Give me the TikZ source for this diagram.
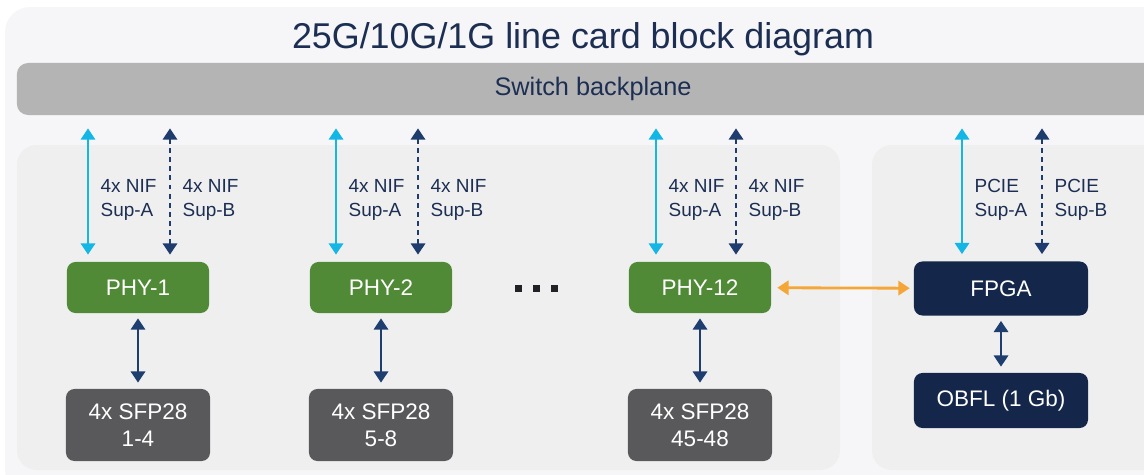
\documentclass[tikz,border=0pt]{standalone}
\usepackage{fontspec}
\setmainfont{Liberation Sans}
\usetikzlibrary{arrows.meta,positioning}
\definecolor{lcgreen}{RGB}{80,138,54}
\definecolor{lcnavy}{RGB}{20,39,75}
\definecolor{lcgray}{RGB}{89,89,91}
\definecolor{lccyan}{RGB}{20,182,230}
\definecolor{lcdash}{RGB}{30,60,110}
\definecolor{lclink}{RGB}{31,62,112}
\definecolor{lcorange}{RGB}{245,166,54}
\definecolor{lcbp}{RGB}{180,180,180}
\definecolor{lcpanel}{RGB}{239,239,240}
\definecolor{lcback}{RGB}{246,246,248}
\definecolor{lctext}{RGB}{28,46,82}
\definecolor{lcdots}{RGB}{34,34,38}
\newcommand{\lctitlefont}{\fontsize{25.5}{29}\selectfont}
\newcommand{\lcbpfont}{\fontsize{18}{21}\selectfont}
\newcommand{\lcboxfont}{\fontsize{16}{19}\selectfont}
\newcommand{\lclblfont}{\fontsize{13.5}{17}\selectfont}

\begin{document}
\begin{tikzpicture}[x=0.025cm,y=-0.025cm,
  phy/.style={fill=lcgreen,text=white,rounded corners=6pt,minimum width=3.55cm,minimum height=1.275cm,font=\lcboxfont},
  sfp/.style={fill=lcgray,text=white,rounded corners=6pt,minimum width=3.6cm,minimum height=1.8cm,align=center,font=\lcboxfont},
  ctl/.style={fill=lcnavy,text=white,rounded corners=6pt,minimum width=4.35cm,minimum height=1.35cm,font=\lcboxfont},
  supa/.style={lccyan,line width=2pt,{Triangle[width=10pt,length=8pt]}-{Triangle[width=10pt,length=8pt]},shorten <=0.325cm,shorten >=0.175cm},
  supb/.style={supa,lcdash,dash pattern=on 3.5pt off 3pt},
  niflbl/.style={font=\lclblfont,text=lctext,align=left,anchor=west,inner sep=0pt,xshift=0.28cm,pos=0.58},
  link/.style={lclink,line width=2pt,{Triangle[width=10pt,length=8pt]}-{Triangle[width=10pt,length=8pt]},shorten <=0.125cm,shorten >=0.15cm},
  ctllink/.style={lcorange,line width=2pt,{Triangle[width=10pt,length=8pt]}-{Triangle[width=10pt,length=8pt]},shorten <=0.15cm,shorten >=0.1cm}]
  \useasboundingbox (0,0) rectangle (1144,474);
  \fill[white] (0,0) rectangle (1144,474);

  %% Card outline and the two panels
  \fill[lcback,rounded corners=18pt] (5,7) rectangle (1175,495);
  \fill[lcpanel,rounded corners=14pt] (17,145) rectangle (840,470);
  \fill[lcpanel,rounded corners=14pt] (872,145) rectangle (1175,470);

  %% Title and backplane
  \node[font=\lctitlefont,text=lctext] (title) at (583,39) {25G/10G/1G line card block diagram};
  \node[fill=lcbp,rounded corners=8pt,minimum width=28.8cm,minimum height=1.3cm,
        font=\lcbpfont,text=lctext] (bp) at (593,89) {Switch backplane};

  %% Port groups
  \node[phy] (phy1) at (138,287.5) {PHY-1};
  \node[phy] (phy2) at (381,287.5) {PHY-2};
  \node[phy] (phy12) at (700,287.5) {PHY-12};
  \node[sfp] (sfp1) at (138,425) {4x SFP28\\1-4};
  \node[sfp] (sfp2) at (381,425) {4x SFP28\\5-8};
  \node[sfp] (sfp12) at (700,425) {4x SFP28\\45-48};

  %% Ellipsis between PHY-2 and PHY-12
  \foreach \dx in {518.5,536.5,554.5}
    \fill[lcdots] (\dx-3.5,284.5) rectangle (\dx+3.5,291.5);

  %% Control side
  \node[ctl] (fpga) at (1001,288.5) {FPGA};
  \node[ctl,minimum height=1.375cm] (obfl) at (1001,400.5) {OBFL (1 Gb)};

  %% Uplinks to the backplane
  \coordinate (a1) at (88,0);   \coordinate (b1) at (170,0);
  \coordinate (a2) at (336,0);  \coordinate (b2) at (418,0);
  \coordinate (a12) at (656,0); \coordinate (b12) at (736,0);
  \coordinate (af) at (962,0);  \coordinate (bf) at (1042,0);
  \draw[supa] (bp.south -| a1) -- node[niflbl] {4x NIF\\Sup-A} (phy1.north -| a1);
  \draw[supb] (bp.south -| b1) -- node[niflbl] {4x NIF\\Sup-B} (phy1.north -| b1);
  \draw[supa] (bp.south -| a2) -- node[niflbl] {4x NIF\\Sup-A} (phy2.north -| a2);
  \draw[supb] (bp.south -| b2) -- node[niflbl] {4x NIF\\Sup-B} (phy2.north -| b2);
  \draw[supa] (bp.south -| a12) -- node[niflbl] {4x NIF\\Sup-A} (phy12.north -| a12);
  \draw[supb] (bp.south -| b12) -- node[niflbl] {4x NIF\\Sup-B} (phy12.north -| b12);
  \draw[supa] (bp.south -| af) -- node[niflbl] {PCIE\\Sup-A} (fpga.north -| af);
  \draw[supb] (bp.south -| bf) -- node[niflbl] {PCIE\\Sup-B} (fpga.north -| bf);

  %% Local links
  \draw[link] (phy1) -- (sfp1);
  \draw[link] (phy2) -- (sfp2);
  \draw[link] (phy12) -- (sfp12);
  \draw[link] (fpga) -- (obfl);
  \draw[ctllink] (phy12) -- (fpga);
\end{tikzpicture}
\end{document}
